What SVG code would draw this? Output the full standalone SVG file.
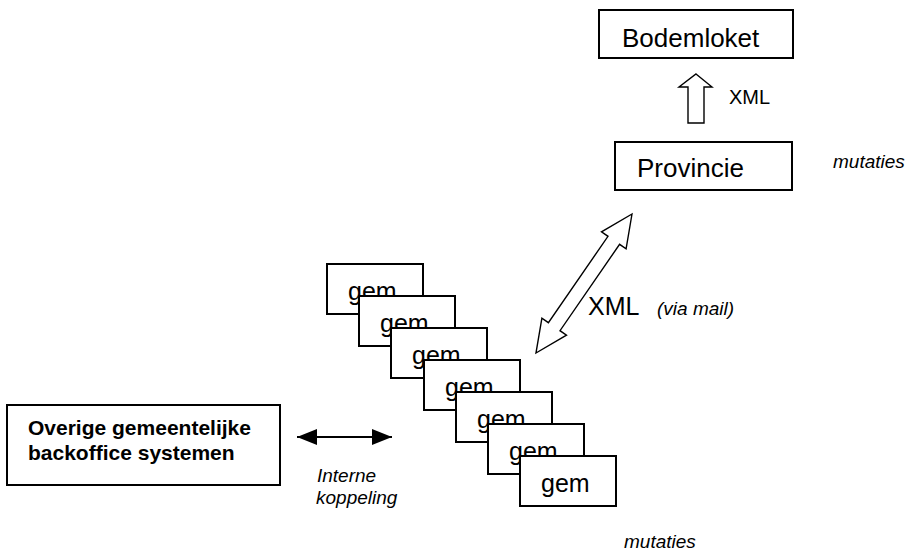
<svg xmlns="http://www.w3.org/2000/svg" width="909" height="555" viewBox="0 0 909 555">
  <style>
    .box { fill: #fff; stroke: #000; stroke-width: 2; }
    .lbl { font-family: "Liberation Sans", Arial, sans-serif; fill: #000; }
    .big { font-size: 25px; }
    .it { font-style: italic; font-size: 19px; }
    .bold { font-weight: bold; font-size: 21px; }
    .blk { fill: #fff; stroke: #000; stroke-width: 1.4; stroke-linejoin: miter; }
  </style>
  <defs>
    <marker id="head" viewBox="0 0 20 16" refX="20" refY="8" markerWidth="20" markerHeight="16" markerUnits="userSpaceOnUse" orient="auto-start-reverse">
      <path d="M0,0 L20,8 L0,16 Z" fill="#000"/>
    </marker>
  </defs>
  <rect width="909" height="555" fill="#fff"/>

  <g id="bodemloket">
    <rect class="box" x="599" y="10" width="194" height="48"/>
    <text class="lbl" x="622" y="47" font-size="26">Bodemloket</text>
  </g>

  <g id="provincie">
    <rect class="box" x="615" y="142" width="177" height="48"/>
    <text class="lbl" x="637" y="177" font-size="26">Provincie</text>
  </g>

  <g id="backoffice">
    <rect class="box" x="7" y="405" width="273" height="80"/>
    <text class="lbl bold" x="28" y="435">Overige gemeentelijke</text>
    <text class="lbl bold" x="28" y="460">backoffice systemen</text>
  </g>

  <!-- cascade of municipality boxes, each overlapping the previous one -->
  <g id="gem1"><rect class="box" x="327" y="264" width="96" height="50"/><text class="lbl big" x="348" y="300">gem</text></g>
  <g id="gem2"><rect class="box" x="359" y="296" width="96" height="50"/><text class="lbl big" x="380" y="332">gem</text></g>
  <g id="gem3"><rect class="box" x="391" y="328" width="96" height="50"/><text class="lbl big" x="412" y="364">gem</text></g>
  <g id="gem4"><rect class="box" x="424" y="360" width="96" height="50"/><text class="lbl big" x="445" y="396">gem</text></g>
  <g id="gem5"><rect class="box" x="456" y="392" width="96" height="50"/><text class="lbl big" x="477" y="428">gem</text></g>
  <g id="gem6"><rect class="box" x="488" y="424" width="96" height="50"/><text class="lbl big" x="509" y="460">gem</text></g>
  <g id="gem7"><rect class="box" x="520" y="456" width="96" height="50"/><text class="lbl big" x="541" y="492">gem</text></g>

  <g id="connectors">
    <!-- Provincie to Bodemloket block arrow -->
    <polygon class="blk" points="696,74 712,87 704,87 704,123 688,123 688,87 679,87"/>
    <!-- gem to Provincie double block arrow -->
    <polygon class="blk" points="632,214 626.1,248.8 619.6,244.3 560,330.7 566.5,335.2 536,353 541.9,318.2 548.4,322.7 608,236.3 601.5,231.8"/>
    <!-- internal coupling -->
    <line x1="297" y1="437" x2="392" y2="437" stroke="#000" stroke-width="2" marker-start="url(#head)" marker-end="url(#head)"/>
  </g>

  <g id="labels">
    <text class="lbl" x="729" y="104" font-size="20">XML</text>
    <text class="lbl it" x="833" y="168">mutaties</text>
    <text class="lbl big" x="588" y="315">XML</text>
    <text class="lbl it" x="657" y="315" font-size="18">(via mail)</text>
    <text class="lbl it" x="317" y="482" font-size="21">Interne</text>
    <text class="lbl it" x="316" y="504" font-size="21">koppeling</text>
    <text class="lbl it" x="624" y="548">mutaties</text>
  </g>
</svg>
